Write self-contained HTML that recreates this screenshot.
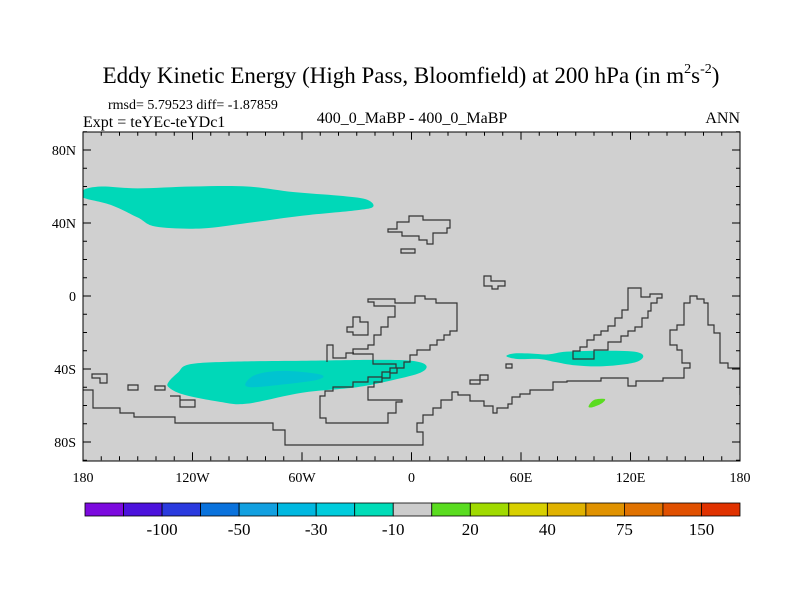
<!DOCTYPE html>
<html><head><meta charset="utf-8"><style>
body{margin:0;background:#fff;}
svg{display:block;}
text{font-family:"Liberation Serif",serif;fill:#000;}
</style></head><body>
<svg id="chart" width="800" height="600" viewBox="0 0 800 600">
<text x="411" y="83" font-size="23" text-anchor="middle">Eddy Kinetic Energy (High Pass, Bloomfield) at 200 hPa (in m<tspan font-size="14" dy="-10">2</tspan><tspan dy="10">s</tspan><tspan font-size="14" dy="-10">-2</tspan><tspan dy="10">)</tspan></text>
<text x="108" y="109" font-size="14">rmsd= 5.79523 diff= -1.87859</text>
<text x="83" y="127" font-size="16">Expt = teYEc-teYDc1</text>
<text x="412" y="123" font-size="16" text-anchor="middle">400_0_MaBP - 400_0_MaBP</text>
<text x="740" y="123" font-size="16" text-anchor="end">ANN</text>
<defs><clipPath id="mapclip"><rect x="83" y="132" width="657" height="329"/></clipPath></defs>
<rect x="83" y="132" width="657" height="329" fill="#d0d0d0"/>
<g id="fills" clip-path="url(#mapclip)"></g>
<g id="coast" clip-path="url(#mapclip)" fill="none" stroke="#333" stroke-width="1.2">
<path d="M83,390H93V408H120V413H134V417H175V423H273V430H285V445H423V432H417V423H423V415H433V408H441V400H452V392H458V395H470V401H484V406H493V413H497V408H508V404H512V397H520V394H530V390H553V382H567V381H601V378H628V386H636V381H663V378H684V368H690V363H682V350H677V345H670V330H677V325H684V303H690V296H697V299H704V303H708V318V325H714V333H720V363H728V368H740"/>
<path d="M573,359V351H580V347H587V340H594V335H601V331H608V326H615V318H622V310H628V288H641V297H650V294H662V298H657V303H651V311H648V318H642V327H635V331H628V336H621V342H608V350H594V359Z"/>
<path d="M388,232V229H397V222H409V216H423V220H450V228H447V233H433V244H427V240H419V236H402V232Z"/>
<path d="M401,249H415V253H401Z"/>
<path d="M484,276H491V281H505V286H498V289H492V286H484Z"/>
<path d="M506,364H512V368H506Z"/>
<path d="M470,380H480V375H488V380H480V384H470Z"/>
<path d="M368,299H395V303H415V296H425V299H436V303H457V331H450V335H444V340H437V345H430V350H417V355H410V362H404V368H397V373H390V378H382V382H374V387H368V400H402V402H396V413H388V423H326V418H320V396H325V391H333V387H353V382H368V377H382V372H390V368H396V364H373V354H353V349H368V345H374V335H381V327H388V317H395V306H374V302H368Z"/>
<path d="M347,327H353V317H360V322H368V335H353V332H347Z"/>
<path d="M327,362V345H333V358H346V353H354"/>
<path d="M92,374H107V383H100V378H92Z"/>
<path d="M128,385H138V390H128Z"/>
<path d="M155,386H165V390H155Z"/>
<path d="M170,396H180V400H195V407H180V400"/>
<path d="M740,395V370"/>
</g>
<g id="axes"></g>
<rect x="83" y="132" width="657" height="329" fill="none" stroke="#000" stroke-width="1"/>
<g id="colorbar"></g>
</svg>
<script>
const NS='http://www.w3.org/2000/svg';
// map axes
const lonMin=-180, lonMax=180, latMin=-90, latMax=90;
const X0=83, X1=740, Y0=131.75, Y1=460.25;
function xs(lon){return X0+(lon-lonMin)/(lonMax-lonMin)*(X1-X0);}
function ys(lat){return Y0+(latMax-lat)/(latMax-latMin)*(Y1-Y0);}
// contour regions (lon, lat)
const northPacificLon=[-180,-170,-150,-120,-90,-65,-40,-25,-21,-30,-60,-90,-115,-140,-150,-165,-180];
const northPacificLat=[58,60,59,60,60,57,55,53,49,47,44,40,37,38,43,50,54];
const southAtlanticLon=[-133,-128,-122,-100,-60,-20,0,8,5,-10,-30,-60,-90,-105,-125,-133];
const southAtlanticLat=[-47,-42,-37.5,-36,-35.5,-35,-35.5,-38,-42,-46,-50,-53,-59,-58,-54,-50];
const southCoreLon=[-91,-85,-70,-50,-52,-75,-88];
const southCoreLat=[-48,-43,-41,-43,-46,-49,-50];
const indianLon=[52,56,65,75,85,105,122,127,122,105,90,78,70,58];
const indianLat=[-33,-31.5,-31.5,-32,-30.5,-30,-30.5,-33,-36.5,-38.5,-38,-36,-34.5,-34.5];
const greenLon=[97,100,106,104,99];
const greenLat=[-60.5,-57,-56.5,-59,-61];
const regionColor=['#00d8b8','#00d8b8','#00c4d0','#00d8b8','#5adc20'];
const regions=[[northPacificLon,northPacificLat],[southAtlanticLon,southAtlanticLat],[southCoreLon,southCoreLat],[indianLon,indianLat],[greenLon,greenLat]];
const regionNames=['north-pacific-negative-region','south-atlantic-negative-region','south-atlantic-core-region','indian-ocean-negative-region','southern-ocean-positive-region'];
const fills=document.getElementById('fills');
regions.forEach((r,i)=>{
  const pts=r[0].map((lo,k)=>[xs(lo),ys(r[1][k])]);
  let d='M'+pts[0][0]+','+pts[0][1];
  for(let k=0;k<pts.length;k++){
    const p0=pts[(k-1+pts.length)%pts.length],p1=pts[k],p2=pts[(k+1)%pts.length],p3=pts[(k+2)%pts.length];
    const c1=[p1[0]+(p2[0]-p0[0])/6,p1[1]+(p2[1]-p0[1])/6],c2=[p2[0]-(p3[0]-p1[0])/6,p2[1]-(p3[1]-p1[1])/6];
    d+=' C'+c1+' '+c2+' '+p2;
  }
  const el=document.createElementNS(NS,'path');
  el.setAttribute('d',d+'Z');el.setAttribute('fill',regionColor[i]);
  
  
  fills.appendChild(el);
});
// ticks
const lonLabels=['180','120W','60W','0','60E','120E','180'];
const lonLabelVals=[-180,-120,-60,0,60,120,180];
const latLabels=['80N','40N','0','40S','80S'];
const latLabelVals=[80,40,0,-40,-80];
const axes=document.getElementById('axes');
function line(x1,y1,x2,y2,name){const l=document.createElementNS(NS,'line');l.setAttribute('x1',x1);l.setAttribute('y1',y1);l.setAttribute('x2',x2);l.setAttribute('y2',y2);l.setAttribute('stroke','#000');l.setAttribute('stroke-width','1');


axes.appendChild(l);}
function txt(x,y,s,anchor,name){const t=document.createElementNS(NS,'text');t.setAttribute('x',x);t.setAttribute('y',y);t.setAttribute('font-size','14');t.setAttribute('text-anchor',anchor);t.textContent=s;


axes.appendChild(t);}
for(let lo=-180;lo<=180;lo+=10){const maj=lo%60===0;const L=maj?8:4;line(xs(lo),Y1,xs(lo),Y1-L,'x-tick');line(xs(lo),Y0,xs(lo),Y0+L,'x-tick');}
for(let la=-90;la<=90;la+=10){const maj=(la%40===0);const L=maj?8:4;line(X0,ys(la),X0+L,ys(la),'y-tick');line(X1,ys(la),X1-L,ys(la),'y-tick');}
lonLabelVals.forEach((v,i)=>txt(xs(v),482,lonLabels[i],'middle','x-tick-label'));
latLabelVals.forEach((v,i)=>txt(76,ys(v)+5,latLabels[i],'end','y-tick-label'));
// colorbar
const cbColors=['#7c0ade','#4c12dc','#2a3ade','#0a72dc','#12a0e0','#00b8e0','#00ccdc','#00dcb8','#cccccc','#5adc20','#a0da00','#d8d000','#e0b200','#e09200','#e07200','#e05000','#e03200'];
const cbLabels=['-100','-50','-30','-10','20','40','75','150'];
const cbLabelIdx=[2,4,6,8,10,12,14,16];
const cb=document.getElementById('colorbar');
const CX0=85, CX1=740, CY=503, CH=13, bw=(CX1-CX0)/cbColors.length;
cbColors.forEach((c,i)=>{const r=document.createElementNS(NS,'rect');r.setAttribute('x',CX0+i*bw);r.setAttribute('y',CY);r.setAttribute('width',bw);r.setAttribute('height',CH);r.setAttribute('fill',c);r.setAttribute('stroke','#000');r.setAttribute('stroke-width','0.8');


cb.appendChild(r);});
cbLabels.forEach((s,i)=>{const t=document.createElementNS(NS,'text');t.setAttribute('x',CX0+cbLabelIdx[i]*bw);t.setAttribute('y',535);t.setAttribute('font-size','17');t.setAttribute('text-anchor','middle');t.textContent=s;


cb.appendChild(t);});
</script>
</body></html>
